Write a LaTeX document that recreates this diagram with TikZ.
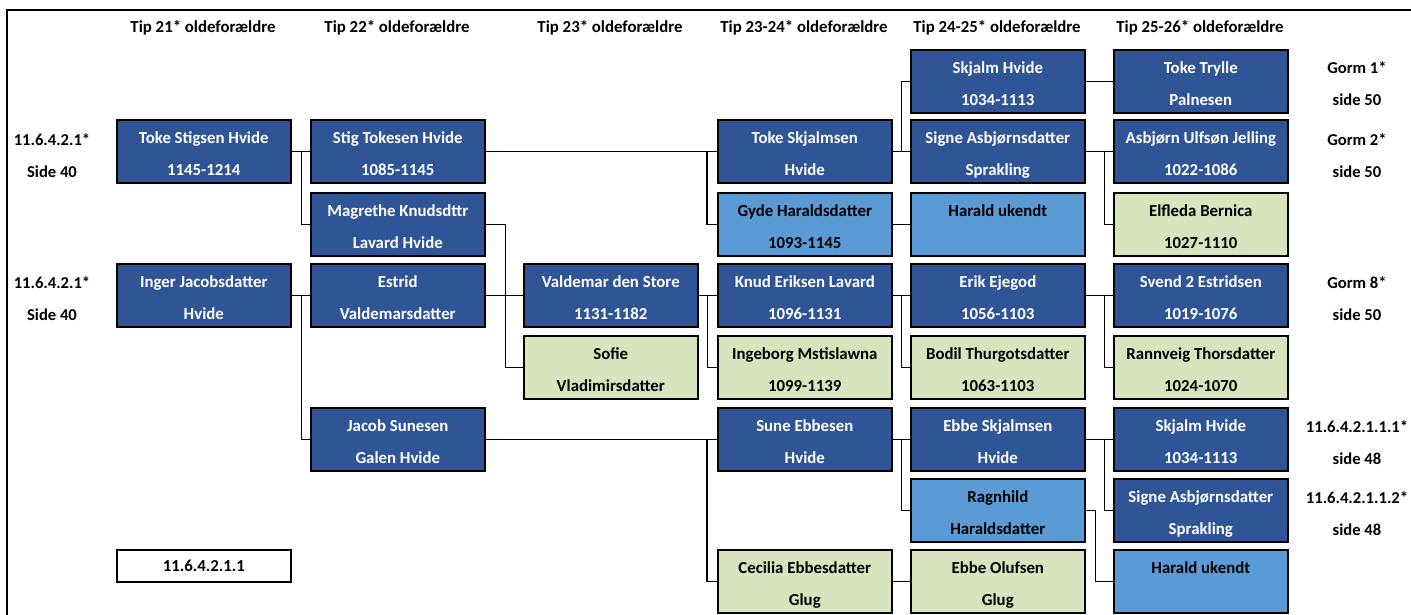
\documentclass[tikz,border=0pt]{standalone}
\usepackage{fontspec}
\setmainfont{Carlito}
\usepackage{xcolor}
\usepackage{tikz}
\usetikzlibrary{positioning}
\definecolor{darkblue}{HTML}{2F5597}
\definecolor{skyblue}{HTML}{5B9BD5}
\definecolor{sage}{HTML}{D7E4BD}
\tikzset{
  person/.style={rectangle, draw=black, line width=1.6pt, anchor=north west,
                 minimum width=174pt, minimum height=63pt, inner sep=0pt,
                 text height=50pt, text depth=2pt,
                 align=center, font=\bfseries\fontsize{16.8}{32}\selectfont},
  darkbox/.style={person, fill=darkblue, text=white},
  skybox/.style={person, fill=skyblue, text=black},
  sagebox/.style={person, fill=sage, text=black},
  numbox/.style={person, fill=white, text=black, minimum height=32pt,
                 text height=12pt, text depth=0pt},
  hdr/.style={font=\bfseries\fontsize{16.8}{18}\selectfont, anchor=center},
  lbl/.style={align=center, font=\bfseries\fontsize{16.6}{32}\selectfont},
  link/.style={draw=black, line width=1.2pt},
}

\begin{document}
\begin{tikzpicture}[x=1pt, y=-1pt]
\useasboundingbox (0,0) rectangle (1411,615);
\draw[line width=2pt] (7,615) -- (7,10) -- (1411,10);

% generation headings
\node[hdr] (h1) at (203,28) {Tip 21* oldeforældre};
\node[hdr] (h2) at (397,28) {Tip 22* oldeforældre};
\node[hdr] (h3) at (610,28) {Tip 23* oldeforældre};
\node[hdr] (h4) at (804,28) {Tip 23-24* oldeforældre};
\node[hdr] (h5) at (997,28) {Tip 24-25* oldeforældre};
\node[hdr] (h6) at (1200,28) {Tip 25-26* oldeforældre};

% column 1
\node[darkbox] (tokeStig) at (116,119) {Toke Stigsen Hvide\\1145-1214};
\node[darkbox] (inger) at (116,263) {Inger Jacobsdatter\\Hvide};
\node[numbox] (ref) at (116,549) {11.6.4.2.1.1};

% column 2
\node[darkbox] (stig) at (310,119) {Stig Tokesen Hvide\\1085-1145};
\node[darkbox] (magrethe) at (310,192) {Magrethe Knudsdttr\\Lavard Hvide};
\node[darkbox] (estrid) at (310,263) {Estrid\\Valdemarsdatter};
\node[darkbox] (jacob) at (310,407) {Jacob Sunesen\\Galen Hvide};

% column 3
\node[darkbox] (valdemar) at (523,263) {Valdemar den Store\\1131-1182};
\node[sagebox] (sofie) at (523,335) {Sofie\\Vladimirsdatter};

% column 4
\node[darkbox] (tokeSkj) at (717,119) {Toke Skjalmsen\\Hvide};
\node[skybox] (gyde) at (717,192) {Gyde Haraldsdatter\\1093-1145};
\node[darkbox] (knud) at (717,263) {Knud Eriksen Lavard\\1096-1131};
\node[sagebox] (ingeborg) at (717,335) {Ingeborg Mstislawna\\1099-1139};
\node[darkbox] (sune) at (717,407) {Sune Ebbesen\\Hvide};
\node[sagebox] (cecilia) at (717,549) {Cecilia Ebbesdatter\\Glug};

% column 5
\node[darkbox] (skjalmA) at (910,49) {Skjalm Hvide\\1034-1113};
\node[darkbox] (signeA) at (910,119) {Signe Asbjørnsdatter\\Sprakling};
\node[skybox] (haraldA) at (910,192) {Harald ukendt\\~};
\node[darkbox] (erik) at (910,263) {Erik Ejegod\\1056-1103};
\node[sagebox] (bodil) at (910,335) {Bodil Thurgotsdatter\\1063-1103};
\node[darkbox] (ebbeS) at (910,407) {Ebbe Skjalmsen\\Hvide};
\node[skybox] (ragnhild) at (910,478) {Ragnhild\\Haraldsdatter};
\node[sagebox] (ebbeO) at (910,549) {Ebbe Olufsen\\Glug};

% column 6
\node[darkbox] (tokeTr) at (1113,49) {Toke Trylle\\Palnesen};
\node[darkbox] (asbjorn) at (1113,119) {Asbjørn Ulfsøn Jelling\\1022-1086};
\node[sagebox] (elfleda) at (1113,192) {Elfleda Bernica\\1027-1110};
\node[darkbox] (svend) at (1113,263) {Svend 2 Estridsen\\1019-1076};
\node[sagebox] (rannveig) at (1113,335) {Rannveig Thorsdatter\\1024-1070};
\node[darkbox] (skjalmB) at (1113,407) {Skjalm Hvide\\1034-1113};
\node[darkbox] (signeB) at (1113,478) {Signe Asbjørnsdatter\\Sprakling};
\node[skybox] (haraldB) at (1113,549) {Harald ukendt\\~};

% page references
\node[lbl] (refL1) at (52,156) {11.6.4.2.1*\\Side 40};
\node[lbl] (refL2) at (52,299) {11.6.4.2.1*\\Side 40};
\node[lbl] (gorm1) at (1357,84) {Gorm 1*\\side 50};
\node[lbl] (gorm2) at (1357,156) {Gorm 2*\\side 50};
\node[lbl] (gorm8) at (1357,299) {Gorm 8*\\side 50};
\node[lbl] (refR1) at (1357,443) {11.6.4.2.1.1.1*\\side 48};
\node[lbl] (refR2) at (1357,514) {11.6.4.2.1.1.2*\\side 48};

% lines to the parents
\draw[link] (tokeStig.east) -- (stig.west);
\draw[link] (tokeStig.east) -- ++(10,0) |- (magrethe.west);
\draw[link] (inger.east) -- (estrid.west);
\draw[link] (inger.east) -- ++(10,0) |- (jacob.west);

\draw[link] (stig.east) -- (tokeSkj.west);
\draw[link] (tokeSkj.west) ++(-10,0) |- (gyde.west);
\draw[link] (magrethe.east) -- ++(20,0) |- (sofie.west);
\draw[link] (estrid.east) -- (valdemar.west);
\draw[link] (jacob.east) -- (sune.west);
\draw[link] (sune.west) ++(-10,0) |- (cecilia.west);

\draw[link] (valdemar.east) -- (knud.west);
\draw[link] (valdemar.east) -- ++(9,0) |- (ingeborg.west);

\draw[link] (tokeSkj.east) -- (signeA.west);
\draw[link] (tokeSkj.east) -- ++(9,0) |- (skjalmA.west);
\draw[link] (gyde.east) -- (haraldA.west);
\draw[link] (knud.east) -- (erik.west);
\draw[link] (knud.east) -- ++(9,0) |- (bodil.west);
\draw[link] (sune.east) -- (ebbeS.west);
\draw[link] (sune.east) -- ++(9,0) |- (ragnhild.west);
\draw[link] (cecilia.east) -- (ebbeO.west);

\draw[link] (skjalmA.east) -- (tokeTr.west);
\draw[link] (signeA.east) -- (asbjorn.west);
\draw[link] (signeA.east) -- ++(19,0) |- (elfleda.west);
\draw[link] (erik.east) -- (svend.west);
\draw[link] (erik.east) -- ++(19,0) |- (rannveig.west);
\draw[link] (ebbeS.east) -- (skjalmB.west);
\draw[link] (ebbeS.east) -- ++(19,0) |- (signeB.west);
\draw[link] (ragnhild.east) -- ++(10,0) |- (haraldB.west);
\end{tikzpicture}
\end{document}
